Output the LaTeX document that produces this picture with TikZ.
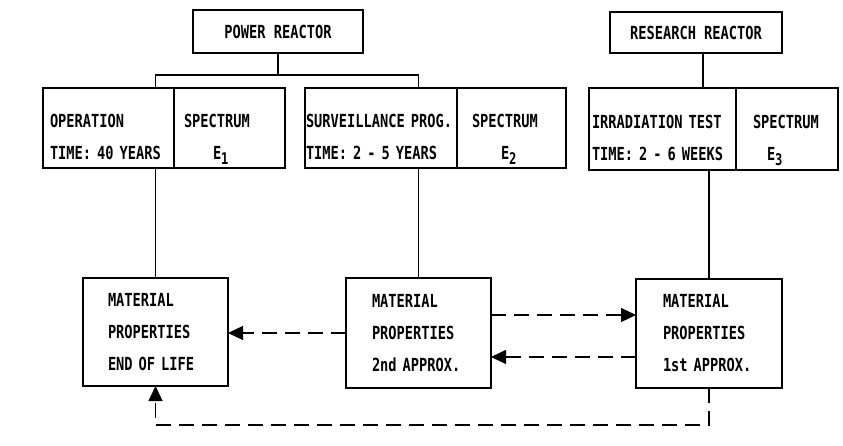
\documentclass[tikz,border=0pt]{standalone}
\usepackage{fontspec}
\newfontfamily\typefont[FakeStretch=0.76]{DejaVu Sans Mono}
\usetikzlibrary{arrows.meta}
\newcommand\capline{\rule{0pt}{32pt}}
\newcommand\lowidx[1]{\raisebox{-5pt}[0pt][0pt]{\fontsize{16pt}{16pt}\selectfont #1}}
\begin{document}
\begin{tikzpicture}[x=1pt,y=-1pt,
box/.style={draw,line width=1.4pt,outer sep=0pt,inner ysep=0pt,font={\typefont\bfseries\fontsize{18pt}{32pt}\selectfont}},
cell/.style={box,anchor=north west,align=left},
link/.style={line width=1.3pt},
dlink/.style={link,-{Triangle[length=15pt,width=14pt]},dash pattern=on 15pt off 8pt}]
\useasboundingbox (0,0) rectangle (843,446);
% sources
\node[box,minimum width=170pt,minimum height=43pt] (power) at (278,31.5) {POWER REACTOR};
\node[box,minimum width=172pt,minimum height=41pt] (research) at (696,32.5) {RESEARCH REACTOR};
% exposure boxes
\node[cell,minimum width=131pt,minimum height=80pt,inner xsep=7pt,text width=117pt] (operation) at (43,88)
{\capline OPERATION\\TIME: 40 YEARS};
\node[cell,minimum width=111pt,minimum height=80pt,inner xsep=10pt,text width=91pt] (spec1) at (operation.north east)
{\capline SPECTRUM\\\hspace*{29pt}E\lowidx{1}};
\node[cell,minimum width=152pt,minimum height=80pt,inner xsep=1pt,text width=150pt] (surveillance) at (305,88)
{\capline SURVEILLANCE PROG.\\TIME: 2 - 5 YEARS};
\node[cell,minimum width=109pt,minimum height=80pt,inner xsep=15pt,text width=79pt] (spec2) at (surveillance.north east)
{\capline SPECTRUM\\\hspace*{29pt}E\lowidx{2}};
\node[cell,minimum width=147pt,minimum height=82pt,inner xsep=3pt,text width=141pt] (irradiation) at (589,88)
{\capline IRRADIATION TEST\\TIME: 2 - 6 WEEKS};
\node[cell,minimum width=102pt,minimum height=82pt,inner xsep=17pt,text width=68pt] (spec3) at (irradiation.north east)
{\capline SPECTRUM\\\hspace*{14pt}E\lowidx{3}};
% material properties
\node[cell,minimum width=145pt,minimum height=108pt,inner xsep=25pt,text width=95pt] (endlife) at (83,278)
{MATERIAL\\PROPERTIES\\END OF LIFE};
\node[cell,minimum width=145pt,minimum height=110pt,inner xsep=26pt,text width=93pt] (second) at (346,278)
{MATERIAL\\PROPERTIES\\2nd APPROX.};
\node[cell,minimum width=146pt,minimum height=109pt,inner xsep=27pt,text width=92pt] (first) at (636,279)
{MATERIAL\\PROPERTIES\\1st APPROX.};
% solid links
\coordinate (bar) at (278,75);
\draw[link] (power.south) -- (bar);
\draw[link] (endlife.north |- operation.north) -- (endlife.north |- bar) -- (second.north |- bar) -- (second.north |- surveillance.north);
\draw[link] (endlife.north |- operation.south) -- (endlife.north);
\draw[link] (second.north |- surveillance.south) -- (second.north);
\draw[link] ([xshift=7pt]research.south) -- ([xshift=7pt]research.south |- irradiation.north);
\draw[link] (first.north |- irradiation.south) -- (first.north);
% dashed transfers
\draw[dlink] (second.west) -- (second.west -| endlife.east);
\draw[dlink] ([yshift=18pt]second.east) -- ([yshift=18pt]second.east -| first.west);
\draw[dlink] ([yshift=-24pt]second.east -| first.west) -- ([yshift=-24pt]second.east);
\draw[dlink] (first.south) -- (first.south |- 0,425) -| (endlife.south);
\end{tikzpicture}
\end{document}
